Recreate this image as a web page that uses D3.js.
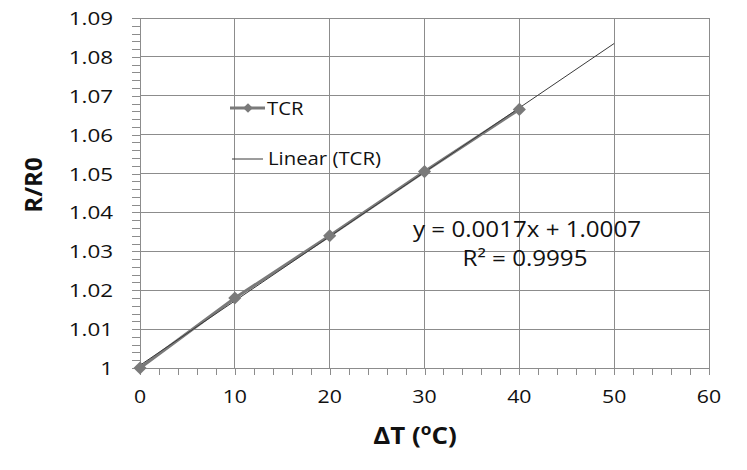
<!DOCTYPE html>
<html><head><meta charset="utf-8">
<script src="https://cdn.jsdelivr.net/npm/d3@7"></script>
<style>body{margin:0;background:#fff}svg{display:block}text{font-family:"Open Sans",sans-serif;fill:#111}</style>
</head><body><svg id="c" width="747" height="470"></svg>
<script>
const deltaT = [0, 10, 20, 30, 40];
const ratio = [1.0, 1.018, 1.034, 1.0505, 1.0665];
const xTicks = [0, 10, 20, 30, 40, 50, 60];
const yTicks = [1, 1.01, 1.02, 1.03, 1.04, 1.05, 1.06, 1.07, 1.08, 1.09];
const trendRange = [0, 50];
const eqText = "y = 0.0017x + 1.0007";
const r2Text = "R² = 0.9995";

const svg = d3.select("#c");
const x = d3.scaleLinear().domain([0, 60]).range([140, 709]);
const y = d3.scaleLinear().domain([1, 1.09]).range([368, 18]);
const grid = "#8c8c8c";

function txt(parent, px, py, s, anchor, size) {
  return parent.append("text").attr("transform", `translate(${px},${py}) scale(${s},1)`)
    .attr("text-anchor", anchor).attr("font-size", size);
}

// gridlines
svg.append("g").selectAll("line").data(yTicks.slice(1)).join("line")
  .attr("x1", x(0)).attr("x2", x(60)).attr("y1", d => y(d)).attr("y2", d => y(d))
  .attr("stroke", grid).attr("stroke-width", 1).attr("shape-rendering","crispEdges");
svg.append("g").selectAll("line").data(xTicks.slice(1)).join("line")
  .attr("x1", d => x(d)).attr("x2", d => x(d)).attr("y1", y(1)).attr("y2", y(1.09))
  .attr("stroke", grid).attr("stroke-width", 1).attr("shape-rendering","crispEdges");

// minor ticks
const yMinor = d3.range(0, 46).map(i => 1 + i * 0.002);
const xMinor = d3.range(0, 31).map(i => i * 2);
const gy = svg.append("g").attr("transform", `translate(${x(0)},0)`)
  .call(d3.axisLeft(y).tickValues(yMinor).tickSize(8).tickFormat(""));
const gx = svg.append("g").attr("transform", `translate(0,${y(1)})`)
  .call(d3.axisBottom(x).tickValues(xMinor).tickSize(7).tickFormat(""));
[gx, gy].forEach(g => {
  g.selectAll("path,line").attr("stroke", grid).attr("shape-rendering","crispEdges");
});

// tick labels
const gyl = svg.append("g");
yTicks.forEach(d => txt(gyl, 113, y(d) + 7, 1.18, "end", 19).text(String(+d.toFixed(2))));
const gxl = svg.append("g");
xTicks.forEach(d => txt(gxl, x(d), 403, 1.12, "middle", 19).text(d));

// axis titles
const xt = txt(svg, 415, 444, 1.08, "middle", 24).attr("font-weight", "bold");
xt.append("tspan").text("ΔT (");
xt.append("tspan").attr("font-size", 16).attr("dy", -9).text("o");
xt.append("tspan").attr("dy", 9).text("C)");
svg.append("text").attr("transform", "translate(42,185) rotate(-90)").attr("text-anchor", "middle")
  .attr("font-size", 24).attr("font-weight", "bold").text("R/R0");

// series line
const line = d3.line().x((d, i) => x(deltaT[i])).y(d => y(d));
svg.append("path").datum(ratio).attr("d", line).attr("fill", "none")
  .attr("stroke", "#7a7a7a").attr("stroke-width", 3);

// linear regression trendline
const mx = d3.mean(deltaT), my = d3.mean(ratio);
const slope = d3.sum(deltaT, (d, i) => (d - mx) * (ratio[i] - my)) / d3.sum(deltaT, d => (d - mx) ** 2);
const icpt = my - slope * mx;
svg.append("line").attr("x1", x(trendRange[0])).attr("y1", y(icpt + slope * trendRange[0]))
  .attr("x2", x(trendRange[1])).attr("y2", y(icpt + slope * trendRange[1]))
  .attr("stroke", "#3a3a3a").attr("stroke-width", 1);

// markers
const diamond = d3.symbol().type(d3.symbolDiamond2).size(110);
svg.append("g").selectAll("path").data(ratio).join("path")
  .attr("transform", (d, i) => `translate(${x(deltaT[i])},${y(d)})`)
  .attr("d", diamond).attr("fill", "#7a7a7a");

// legend
svg.append("line").attr("x1", 230).attr("x2", 265).attr("y1", 108).attr("y2", 108)
  .attr("stroke", "#7a7a7a").attr("stroke-width", 3);
svg.append("path").attr("transform", "translate(248,108)").attr("d", d3.symbol().type(d3.symbolDiamond2).size(60))
  .attr("fill", "#7a7a7a");
txt(svg, 267, 115, 1.07, "start", 19).text("TCR");
svg.append("line").attr("x1", 232).attr("x2", 263).attr("y1", 159).attr("y2", 159)
  .attr("stroke", "#3a3a3a").attr("stroke-width", 1);
txt(svg, 268, 165, 1.07, "start", 19).text("Linear (TCR)");

// equation
txt(svg, 527, 237, 1.15, "middle", 21).text(eqText);
txt(svg, 525, 266, 1.15, "middle", 21).text(r2Text);
</script></body></html>
